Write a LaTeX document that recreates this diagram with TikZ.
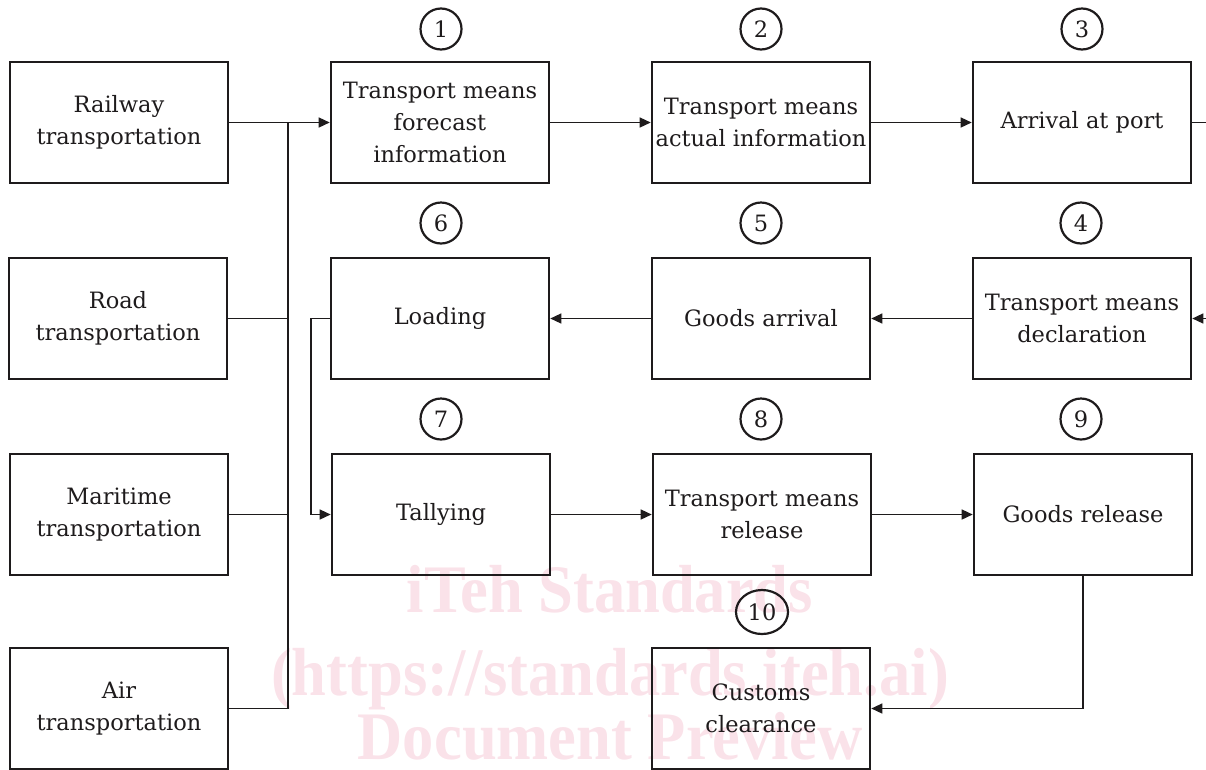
\documentclass[tikz,border=0pt]{standalone}
\usepackage{fontspec}
\setmainfont{DejaVu Serif}
\newfontfamily\wmfont{Liberation Serif}
\usetikzlibrary{arrows.meta,shapes.geometric}
\definecolor{wmpink}{RGB}{250,226,233}
\definecolor{ink}{RGB}{30,27,28}
\begin{document}
\begin{tikzpicture}[x=1pt,y=-1pt,
  box/.style={draw=ink,line width=2.6pt,minimum width=218pt,minimum height=121pt,inner sep=0pt,align=center,text=ink,font=\fontsize{22.5}{32}\selectfont},
  num/.style={draw=ink,circle,line width=2.2pt,minimum size=41pt,inner sep=0pt,text=ink,font=\fontsize{22.5}{27}\selectfont},
  numwide/.style={draw=ink,ellipse,line width=2.2pt,minimum width=52pt,minimum height=44pt,inner sep=0pt,text=ink,font=\fontsize{22.5}{27}\selectfont},
  conn/.style={draw=ink,line width=1.4pt},
  arr/.style={conn,-{Triangle[length=11pt,width=10pt]}},
  wm/.style={text=wmpink,inner sep=0pt,xscale=0.92,font=\wmfont\bfseries\fontsize{68}{68}\selectfont}
]
\useasboundingbox (0,0) rectangle (1206,769);
\clip (0,0) rectangle (1206,769);

% watermark
\node[wm,anchor=base] (wm1) at (610,612) {iTeh Standards};
\node[wm,anchor=base] (wm2) at (610,695) {(https://standards.iteh.ai)};
\node[wm,anchor=base] (wm3) at (610,759) {Document Preview};

% left column
\node[box] (rail) at (119,122.5) {Railway\\transportation};
\node[box] (road) at (118,318.5) {Road\\transportation};
\node[box] (mari) at (119,514.5) {Maritime\\transportation};
\node[box] (air)  at (119,708.5) {Air\\transportation};

% process boxes
\node[box] (b1) at (440,122.5) {Transport means\\forecast\\information};
\node[box] (b2) at (761,122.5) {Transport means\\actual information};
\node[box] (b3) at (1082,122.5) {Arrival at port};
\node[box] (b4) at (1082,318.5) {Transport means\\declaration};
\node[box] (b5) at (761,318.5) {Goods arrival};
\node[box] (b6) at (440,318.5) {Loading};
\node[box] (b7) at (441,514.5) {Tallying};
\node[box] (b8) at (762,514.5) {Transport means\\release};
\node[box] (b9) at (1083,514.5) {Goods release};
\node[box] (b10) at (761,708.5) {Customs\\clearance};

% numbers
\node[num] (n1) at (441,29) {1};
\node[num] (n2) at (761,29) {2};
\node[num] (n3) at (1082,29) {3};
\node[num] (n4) at (1081,223) {4};
\node[num] (n5) at (761,223) {5};
\node[num] (n6) at (441,223) {6};
\node[num] (n7) at (441,419) {7};
\node[num] (n8) at (761,419) {8};
\node[num] (n9) at (1081,419) {9};
\node[numwide] (n10) at (762,612) {10};

% bus from transport modes
\coordinate (bus) at (288,122.5);
\draw[conn] (rail.east) -- (bus);
\draw[conn] (bus) -- (bus |- air.east);
\draw[conn] (road.east) -- (road.east -| bus);
\draw[conn] (mari.east) -- (mari.east -| bus);
\draw[conn] (air.east) -- (air.east -| bus);
\draw[arr] (bus) -- (b1.west);

% row 1
\draw[arr] (b1.east) -- (b2.west);
\draw[arr] (b2.east) -- (b3.west);
\coordinate (offr) at (1220,122.5);
\draw[arr] (b3.east) -- (offr) |- (b4.east);

% row 2
\draw[arr] (b4.west) -- (b5.east);
\draw[arr] (b5.west) -- (b6.east);
\coordinate (loop) at (311,318.5);
\draw[arr] (b6.west) -- (loop) |- (b7.west);

% row 3
\draw[arr] (b7.east) -- (b8.west);
\draw[arr] (b8.east) -- (b9.west);
\draw[arr] (b9.south) |- (b10.east);
\end{tikzpicture}
\end{document}
